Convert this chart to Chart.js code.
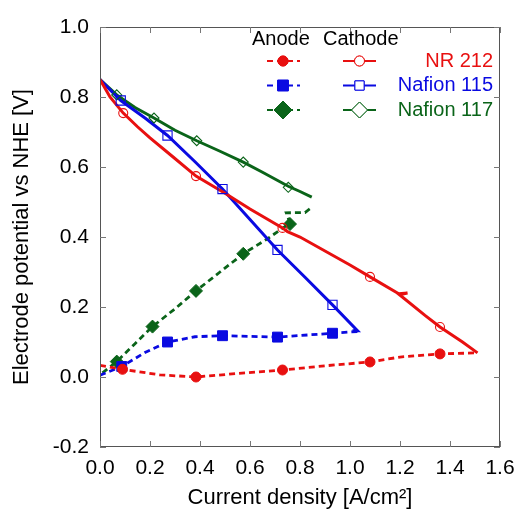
<!DOCTYPE html>
<html lang="en">
<head>
<meta charset="UTF-8">
<title>Electrode potential</title>
<script src="https://cdn.jsdelivr.net/npm/chart.js"></script>
<style>
  body { margin: 0; background: #fff; }
  #wrap { width: 519px; height: 516px; }
</style>
</head>
<body>
<div id="wrap"><canvas id="chart" width="519" height="516"></canvas></div>
<script>
// [current density A/cm2, potential V]
const nr212CathodeLine = [[0, 0.85], [0.04, 0.80], [0.093, 0.754], [0.15, 0.715], [0.2, 0.683], [0.29, 0.63],
  [0.384, 0.574], [0.5, 0.525], [0.6, 0.48], [0.73, 0.426], [0.75, 0.415], [0.8, 0.40], [0.9, 0.36], [1.0, 0.32],
  [1.08, 0.286], [1.195, 0.238], [1.23, 0.24], [1.198, 0.235], [1.3, 0.176], [1.36, 0.143], [1.45, 0.10],
  [1.51, 0.069]];
const nr212CathodePts = [[0.093, 0.754], [0.384, 0.574], [0.73, 0.426], [1.08, 0.286], [1.36, 0.143]];
const nr212AnodeLine = [[0, 0.033], [0.09, 0.022], [0.24, 0.006], [0.384, 0.0], [0.55, 0.01], [0.73, 0.02],
  [0.9, 0.032], [1.08, 0.043], [1.2, 0.057], [1.36, 0.066], [1.51, 0.069]];
const nr212AnodePts = [[0.09, 0.022], [0.384, 0.0], [0.73, 0.02], [1.08, 0.043], [1.36, 0.066]];

const n115CathodeLine = [[0, 0.85], [0.083, 0.79], [0.18, 0.74], [0.27, 0.69], [0.38, 0.615], [0.49, 0.537],
  [0.6, 0.45], [0.71, 0.363], [0.82, 0.285], [0.93, 0.206], [1.03, 0.132], [1.01, 0.132]];
const n115CathodePts = [[0.083, 0.79], [0.27, 0.69], [0.49, 0.537], [0.71, 0.363], [0.93, 0.206]];
const n115AnodeLine = [[0, 0.005], [0.087, 0.03], [0.18, 0.07], [0.27, 0.10], [0.38, 0.115], [0.49, 0.118],
  [0.71, 0.114], [0.93, 0.125], [1.03, 0.13]];
const n115AnodePts = [[0.087, 0.03], [0.27, 0.10], [0.49, 0.118], [0.71, 0.114], [0.93, 0.125]];

const n117CathodeLine = [[0, 0.85], [0.067, 0.806], [0.14, 0.77], [0.216, 0.74], [0.3, 0.705], [0.387, 0.675],
  [0.48, 0.645], [0.573, 0.614], [0.65, 0.585], [0.707, 0.563], [0.753, 0.545], [0.80, 0.53], [0.847, 0.514]];
const n117CathodePts = [[0.067, 0.806], [0.216, 0.74], [0.387, 0.675], [0.573, 0.614], [0.753, 0.542]];
const n117AnodeLine = [[0.01, 0.012], [0.067, 0.044], [0.14, 0.095], [0.21, 0.144], [0.3, 0.195], [0.384, 0.246],
  [0.48, 0.3], [0.573, 0.352], [0.67, 0.395], [0.76, 0.44], [0.745, 0.469], [0.82, 0.47], [0.848, 0.485]];
const n117AnodePts = [[0.067, 0.044], [0.21, 0.144], [0.384, 0.246], [0.573, 0.352], [0.76, 0.437]];

const xTicks = [0, 0.2, 0.4, 0.6, 0.8, 1.0, 1.2, 1.4, 1.6];
const yTicks = [-0.2, 0, 0.2, 0.4, 0.6, 0.8, 1.0];

const RED = 'rgb(232,16,16)', BLUE = 'rgb(10,10,225)', GREEN = 'rgb(10,100,25)';
const FONT = "'Liberation Sans', Arial, sans-serif";

const legendRows = [
  { name: 'NR 212', color: RED, anode: 'circle', cathode: 'circle', ar: 5, cr: 5 },
  { name: 'Nafion 115', color: BLUE, anode: 'rect', cathode: 'rect', ar: 7.5, cr: 6.5 },
  { name: 'Nafion 117', color: GREEN, anode: 'rectRot', cathode: 'rectRot', ar: 9, cr: 8 }
];

const pts = a => a.map(p => ({ x: p[0], y: p[1] }));

function lineSet(data, color, dashed) {
  return {
    data: pts(data), showLine: true, borderColor: color, borderWidth: dashed ? 2.8 : 3,
    borderDash: dashed ? [6, 4] : [], pointRadius: 0, tension: 0, order: 2
  };
}
function markSet(data, color, style, radius, filled) {
  return {
    data: pts(data), showLine: false, pointStyle: style, pointRadius: radius,
    pointBackgroundColor: filled ? color : 'rgba(0,0,0,0)', pointBorderColor: color,
    pointBorderWidth: filled ? 1 : 1.1, order: 1
  };
}

const frame = {
  id: 'frame',
  afterDraw(chart) {
    const { ctx, chartArea: a, scales } = chart;
    ctx.save();
    ctx.strokeStyle = '#555';
    ctx.lineWidth = 1;
    ctx.strokeRect(a.left + 0.5, a.top + 0.5, a.right - a.left - 1, a.bottom - a.top - 1);
    ctx.strokeStyle = '#777';
    ctx.beginPath();
    xTicks.forEach(v => {
      const x = Math.round(scales.x.getPixelForValue(v)) + 0.5;
      ctx.moveTo(x, a.bottom); ctx.lineTo(x, a.bottom - 6);
      ctx.moveTo(x, a.top); ctx.lineTo(x, a.top + 6);
    });
    yTicks.forEach(v => {
      const y = Math.round(scales.y.getPixelForValue(v)) + 0.5;
      ctx.moveTo(a.left, y); ctx.lineTo(a.left + 6, y);
      ctx.moveTo(a.right, y); ctx.lineTo(a.right - 6, y);
    });
    ctx.stroke();

    // legend
    ctx.font = '20px ' + FONT;
    ctx.textBaseline = 'middle';
    ctx.fillStyle = '#000';
    ctx.textAlign = 'left';
    ctx.fillText('Anode', 252, 39);
    ctx.fillText('Cathode', 323, 39);
    legendRows.forEach((r, i) => {
      const y = 61 + i * 24.5;
      ctx.strokeStyle = r.color;
      ctx.lineWidth = 2;
      ctx.setLineDash([6, 4]);
      ctx.beginPath(); ctx.moveTo(267, y); ctx.lineTo(300, y); ctx.stroke();
      ctx.setLineDash([]);
      ctx.beginPath(); ctx.moveTo(343, y); ctx.lineTo(376, y); ctx.stroke();
      ctx.fillStyle = r.color;
      ctx.lineWidth = 1;
      Chart.helpers.drawPoint(ctx, { pointStyle: r.anode, radius: r.ar, rotation: 0, borderWidth: 1 }, 283, y);
      ctx.fill(); ctx.stroke();
      ctx.fillStyle = '#fff';
      Chart.helpers.drawPoint(ctx, { pointStyle: r.cathode, radius: r.cr, rotation: 0, borderWidth: 1 }, 359.5, y);
      ctx.fill(); ctx.stroke();
      ctx.fillStyle = r.color;
      ctx.textAlign = 'right';
      ctx.fillText(r.name, 493, y);
    });
    ctx.restore();
  }
};

new Chart(document.getElementById('chart'), {
  type: 'scatter',
  data: {
    datasets: [
      lineSet(nr212CathodeLine, RED, false), markSet(nr212CathodePts, RED, 'circle', 4.5, false),
      lineSet(nr212AnodeLine, RED, true), markSet(nr212AnodePts, RED, 'circle', 5, true),
      lineSet(n115CathodeLine, BLUE, false), markSet(n115CathodePts, BLUE, 'rect', 6.5, false),
      lineSet(n115AnodeLine, BLUE, true), markSet(n115AnodePts, BLUE, 'rect', 7, true),
      lineSet(n117CathodeLine, GREEN, false), markSet(n117CathodePts, GREEN, 'rectRot', 5, false),
      lineSet(n117AnodeLine, GREEN, true), markSet(n117AnodePts, GREEN, 'rectRot', 6.5, true)
    ]
  },
  options: {
    responsive: false,
    animation: false,
    layout: { padding: { top: 27, right: 19, left: 0, bottom: 0 } },
    plugins: { legend: { display: false }, tooltip: { enabled: false } },
    scales: {
      x: {
        type: 'linear', min: 0, max: 1.6,
        afterBuildTicks: s => { s.ticks = xTicks.map(v => ({ value: v })); },
        afterFit: s => { s.height = 69; },
        grid: { display: false }, border: { display: false },
        ticks: { padding: 1, color: '#000', font: { family: FONT, size: 21 }, maxRotation: 0,
          callback: v => v.toFixed(1) },
        title: { display: true, text: 'Current density [A/cm²]', color: '#000',
          font: { family: FONT, size: 22 }, padding: { top: 0, bottom: 5 } }
      },
      y: {
        type: 'linear', min: -0.2, max: 1.0,
        afterBuildTicks: s => { s.ticks = yTicks.map(v => ({ value: v })); },
        afterFit: s => { s.width = 100; },
        grid: { display: false }, border: { display: false },
        ticks: { padding: 3, color: '#000', font: { family: FONT, size: 21 },
          callback: v => v.toFixed(1) },
        title: { display: true, text: 'Electrode potential vs NHE [V]', color: '#000',
          font: { family: FONT, size: 22 }, padding: { top: 9, bottom: 0 } }
      }
    }
  },
  plugins: [frame]
});
</script>
</body>
</html>
